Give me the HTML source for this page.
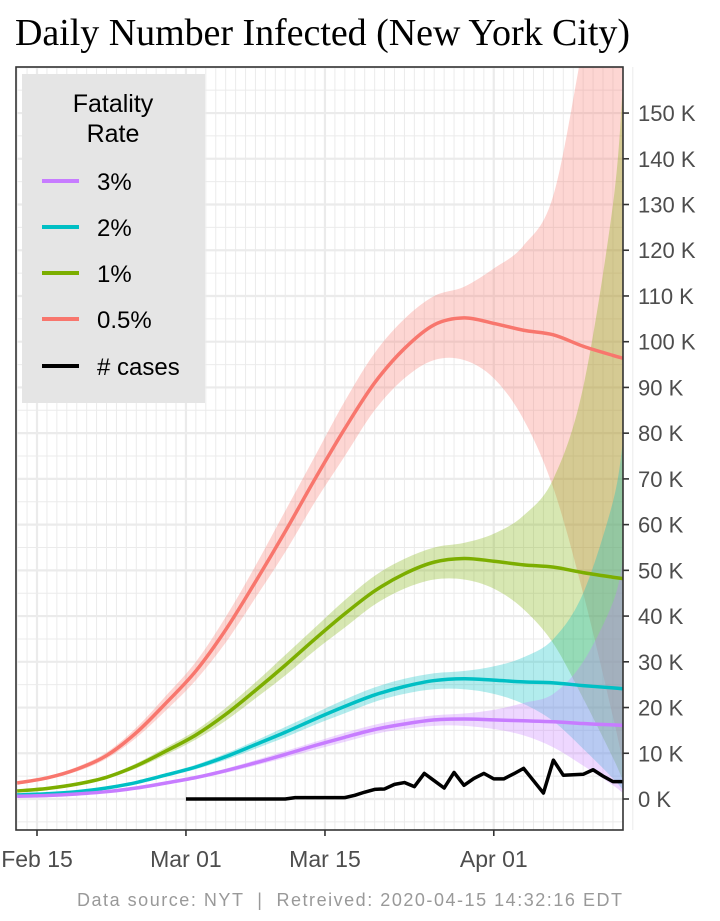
<!DOCTYPE html>
<html><head><meta charset="utf-8"><style>
body{margin:0;background:#fff;}
svg{display:block;font-family:"Liberation Sans",sans-serif;}
</style></head><body>
<svg id="c" width="720" height="921">
<text x="15" y="45" font-family="Liberation Serif,serif" font-size="38" fill="#000" textLength="615">Daily Number Infected (New York City)</text>
<defs><clipPath id="clip"><rect x="16" y="67" width="607" height="763"/></clipPath></defs>
<rect x="16" y="67" width="607" height="763" fill="#fff"/>
<g id="grid"></g>
<g id="marks" clip-path="url(#clip)"></g>
<rect x="16" y="67" width="607" height="763" fill="none" stroke="#333" stroke-width="1.6"/>
<g id="axes"></g>
<g>
<rect x="22" y="74" width="183" height="329" fill="#e5e5e5"/>
<text x="113" y="112" font-size="25" text-anchor="middle">Fatality</text>
<text x="113" y="142" font-size="25" text-anchor="middle">Rate</text>
<g><line x1="42" y1="181" x2="79" y2="181" stroke="#C77CFF" stroke-width="4"/><text x="97" y="190" font-size="24">3%</text></g>
<g><line x1="42" y1="227" x2="79" y2="227" stroke="#00BFC4" stroke-width="4"/><text x="97" y="236" font-size="24">2%</text></g>
<g><line x1="42" y1="273" x2="79" y2="273" stroke="#7CAE00" stroke-width="4"/><text x="97" y="282" font-size="24">1%</text></g>
<g><line x1="42" y1="319" x2="79" y2="319" stroke="#F8766D" stroke-width="4"/><text x="97" y="328" font-size="24">0.5%</text></g>
<g><line x1="42" y1="366" x2="79" y2="366" stroke="#000" stroke-width="4"/><text x="97" y="375" font-size="24"># cases</text></g>
</g>
<text x="77" y="906" font-size="18" fill="#999" textLength="545" xml:space="preserve">Data source: NYT  |  Retreived: 2020-04-15 14:32:16 EDT</text>
</svg>
<script>
const days=[-2,1,4,7,10,13,16,19,22,25,28,31,34,37,40,43,46,49,52,55,58,59];
const red=[3.5,4.6,6.5,9.5,14.5,21,28,37,47.5,58.5,70,81,91,98.5,103.7,105.2,104,102.5,101.5,99,97,96.4];
const redHi=[3.8,4.95,7,10.2,15.6,22.6,30,39.8,51,63,75,87,97.5,105,110,112,116,121,132,165,200,230];
const redLo=[3.2,4.25,6,8.8,13.4,19.4,26,34.2,44,54,65,75,85,92,96,96,92,83,68,45,18,8];
const green=[1.75,2.3,3.25,4.75,7.25,10.5,14,18.5,23.75,29.25,35,40.5,45.5,49.25,51.8,52.6,52,51.2,50.7,49.5,48.5,48.2];
const greenHi=[1.9,2.5,3.5,5.1,7.8,11.3,15,19.9,25.5,31.5,37.5,43.5,48.8,52.5,55,56,58,62,70,90,130,156];
const greenLo=[1.6,2.1,3,4.4,6.7,9.7,13,17.1,22,27,32.5,37.5,42.5,46,48,48,46,41.5,34,22,9,4];
const teal=[0.9,1.15,1.6,2.4,3.6,5.25,7,9.25,11.9,14.6,17.5,20.25,22.75,24.6,25.9,26.3,26,25.6,25.4,24.8,24.3,24.1];
const tealHi=[0.95,1.25,1.75,2.55,3.9,5.65,7.5,9.95,12.75,15.75,18.75,21.75,24.4,26.3,27.5,28,29,31,35,45,65,78];
const tealLo=[0.8,1.05,1.5,2.2,3.35,4.85,6.5,8.55,11,13.5,16.25,18.75,21.25,23,24,24,23,20.8,17,11,4.5,2];
const purple=[0.6,0.77,1.1,1.6,2.4,3.5,4.7,6.2,7.9,9.75,11.7,13.5,15.2,16.4,17.3,17.5,17.3,17.1,16.9,16.5,16.2,16.1];
const purpleHi=[0.65,0.83,1.17,1.7,2.6,3.77,5,6.63,8.5,10.5,12.5,14.5,16.25,17.5,18.3,18.7,19.5,21,23,30,43,52];
const purpleLo=[0.55,0.7,1,1.47,2.23,3.23,4.33,5.7,7.33,9,10.8,12.5,14.2,15.3,16,16,15.3,13.9,11.3,7.3,3,1.3];
const caseDays=[15,16,17,18,19,20,21,22,23,24,25,26,27,28,29,30,31,32,33,34,35,36,37,38,39,40,41,42,43,44,45,46,47,48,49,50,51,52,53,54,55,56,57,58,59];
const cases=[0,0,0,0,0,0,0,0,0,0,0,0.3,0.3,0.3,0.3,0.3,0.3,0.8,1.5,2.1,2.2,3.2,3.6,2.7,5.6,4,2.4,5.8,3,4.5,5.6,4.4,4.4,5.5,6.7,4,1.3,8.5,5.2,5.3,5.4,6.4,5,3.8,3.8];
const yTicks=[0,10,20,30,40,50,60,70,80,90,100,110,120,130,140,150];
const xTickDays=[0,15,29,46];
const xTickLabels=["Feb 15","Mar 01","Mar 15","Apr 01"];

const NS="http://www.w3.org/2000/svg";
const X=d=>37+9.93*d, Y=v=>799-v*4.573;
function mk(tag,attrs,parent){const e=document.createElementNS(NS,tag);for(const k in attrs)e.setAttribute(k,attrs[k]);parent.appendChild(e);return e;}
const grid=document.getElementById('grid'),marks=document.getElementById('marks'),axes=document.getElementById('axes');
for(let d=-2;d<=60;d++){const l=mk('line',{x1:X(d),x2:X(d),y1:67,y2:830,stroke:'#ebebeb','stroke-width':xTickDays.includes(d)?2.2:1},grid);

}
for(let v=-5;v<=160;v+=5){const y=Y(v);if(y<67||y>830)continue;const l=mk('line',{x1:16,x2:623,y1:y,y2:y,stroke:'#ebebeb','stroke-width':v%10===0?2.2:1},grid);

}
// smooth path through points (Catmull-Rom)
function smooth(pts,start){let p=(start?'M':'L')+pts[0][0]+','+pts[0][1];
for(let i=0;i<pts.length-1;i++){const p0=pts[Math.max(i-1,0)],p1=pts[i],p2=pts[i+1],p3=pts[Math.min(i+2,pts.length-1)];
const c1=[p1[0]+(p2[0]-p0[0])/6,p1[1]+(p2[1]-p0[1])/6],c2=[p2[0]-(p3[0]-p1[0])/6,p2[1]-(p3[1]-p1[1])/6];
p+='C'+c1+' '+c2+' '+p2;}return p;}
function band(lo,hi,color,name){const up=days.map((d,i)=>[X(d),Y(hi[i])]);const dn=days.map((d,i)=>[X(d),Y(lo[i])]).reverse();
const e=mk('path',{d:smooth(up,true)+smooth(dn,false)+'Z',fill:color,'fill-opacity':0.3},marks);

}
function line(xs,vs,color,name,w,sm){const pts=xs.map((d,i)=>[X(d),Y(vs[i])]);
const e=mk('path',{d:sm?smooth(pts,true):'M'+pts.join('L'),fill:'none',stroke:color,'stroke-width':w,'stroke-linejoin':'round'},marks);

}
band(redLo,redHi,'#F8766D','band-05pct');
band(greenLo,greenHi,'#7CAE00','band-1pct');
band(tealLo,tealHi,'#00BFC4','band-2pct');
band(purpleLo,purpleHi,'#C77CFF','band-3pct');
line(days,red,'#F8766D','line-05pct',3.5,true);
line(days,green,'#7CAE00','line-1pct',3.5,true);
line(days,teal,'#00BFC4','line-2pct',3.5,true);
line(days,purple,'#C77CFF','line-3pct',3.5,true);
line(caseDays,cases,'#000','line-cases',3.5,false);
yTicks.forEach(v=>{const y=Y(v);mk('line',{x1:623,x2:629,y1:y,y2:y,stroke:'#333','stroke-width':1.6},axes);
const t=mk('text',{x:638,y:y+8,'font-size':22,fill:'#4d4d4d'},axes);t.textContent=v+' K';

});
xTickDays.forEach((d,i)=>{const x=X(d);mk('line',{x1:x,x2:x,y1:830,y2:836,stroke:'#333','stroke-width':1.6},axes);
const t=mk('text',{x:x,y:867,'font-size':23,fill:'#4d4d4d','text-anchor':'middle'},axes);t.textContent=xTickLabels[i];

});
</script>
</body></html>
